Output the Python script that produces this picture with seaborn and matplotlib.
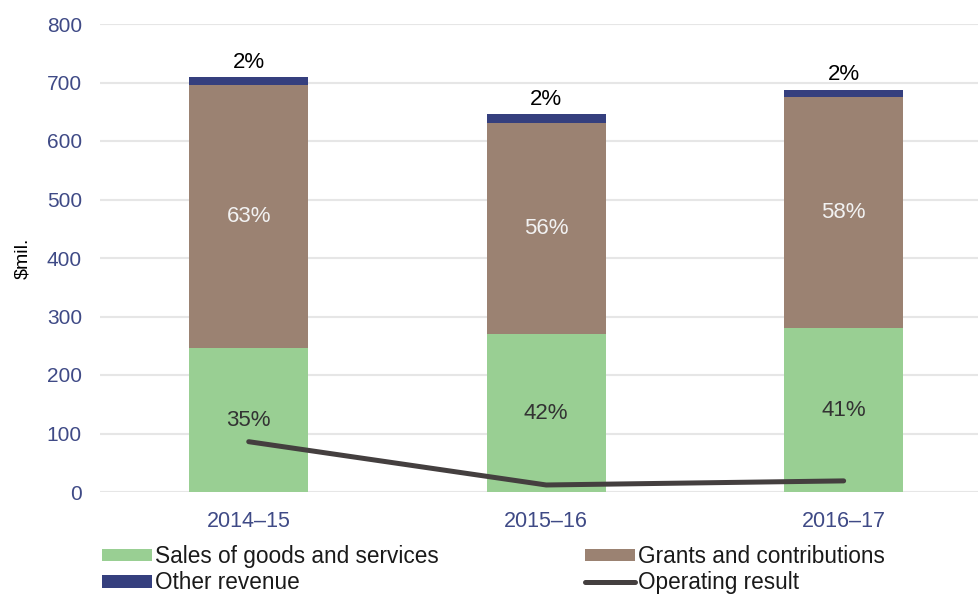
import numpy as np
import pandas as pd
import matplotlib
matplotlib.use("Agg")
import matplotlib.pyplot as plt
from matplotlib.patches import Patch
from matplotlib.lines import Line2D
import seaborn as sns

# Revenue composition and operating result ($mil.)
years = ["2014–15", "2015–16", "2016–17"]
sales = [246, 270, 280]
grants = [450, 361, 396]
other = [13, 15, 12]
operating = [86, 12, 19]

yticks = [0, 100, 200, 300, 400, 500, 600, 700, 800]

GREEN = "#99CF93"
BROWN = "#9B8272"
NAVY = "#353F7E"
LINE = "#443F3F"
TICK = "#3F4A86"

sns.set_theme(style="white")
plt.rcParams["font.family"] = ["Liberation Sans", "DejaVu Sans"]

fig = plt.figure(figsize=(9.79, 5.94), dpi=100)
W, H = 979, 594
ax = fig.add_axes([100 / W, 1 - 492 / H, (W - 100) / W, (492 - 24) / H])

df = pd.DataFrame({"year": years, "sales": sales, "grants": grants, "other": other})
df["lvl2"] = df["sales"] + df["grants"]
df["total"] = df["lvl2"] + df["other"]

# stacked bars drawn as overlapping cumulative totals
for col, c in [("total", NAVY), ("lvl2", BROWN), ("sales", GREEN)]:
    sns.barplot(data=df, x="year", y=col, color=c, saturation=1, width=0.4,
                linewidth=0, ax=ax, zorder=2)

# operating result line
sns.lineplot(x=np.arange(len(years)), y=operating, color=LINE, linewidth=3.6,
             ax=ax, zorder=4, solid_capstyle="round")

# percentage labels
for i in range(len(years)):
    tot = df.loc[i, "total"]
    s, g, o = df.loc[i, "sales"], df.loc[i, "grants"], df.loc[i, "other"]
    ax.text(i, s / 2, f"{round(100 * s / tot)}%", ha="center", va="center",
            fontsize=16, color="#333333", zorder=5)
    ax.text(i, s + g / 2, f"{round(100 * g / tot)}%", ha="center", va="center",
            fontsize=16, color="#F2F2F2", zorder=5)
    ax.annotate(f"{round(100 * o / tot)}%", xy=(i, tot), xytext=(0, 3),
                textcoords="offset points", ha="center", va="bottom",
                fontsize=16, color="black", zorder=5)

ax.set_xlim(-0.5, 2.455)
ax.set_ylim(0, 800)
ax.set_yticks(yticks)
ax.set_yticklabels([str(t) for t in yticks])
ax.grid(axis="y", color="#E6E6E6", linewidth=1.5, zorder=0)
ax.set_axisbelow(True)
for sp in ax.spines.values():
    sp.set_visible(False)
ax.tick_params(axis="y", length=0, pad=13, labelsize=15, labelcolor=TICK)
ax.tick_params(axis="x", length=0, pad=14, labelsize=15.5, labelcolor=TICK)
ax.set_xlabel("")
ax.set_ylabel("$mil.", fontsize=14, color="black")
ax.yaxis.set_label_coords(-0.078, 0.5)

handles = [
    Patch(facecolor=GREEN, edgecolor="none"),
    Patch(facecolor=NAVY, edgecolor="none"),
    Patch(facecolor=BROWN, edgecolor="none"),
    Line2D([0], [0], color=LINE, linewidth=3.6, solid_capstyle="round"),
]
labels = ["Sales of goods and services", "Other revenue",
          "Grants and contributions", "Operating result"]
fig.legend(handles, labels, ncol=2, loc="upper left",
           bbox_to_anchor=(102 / W, 1 - 545 / H), frameon=False,
           fontsize=16.3, handlelength=2.2, handleheight=0.5, handletextpad=0.15,
           columnspacing=6.45, labelspacing=0.15, borderpad=0, borderaxespad=0,
           labelcolor="#1a1a1a")

fig.savefig("out.png", dpi=100)
